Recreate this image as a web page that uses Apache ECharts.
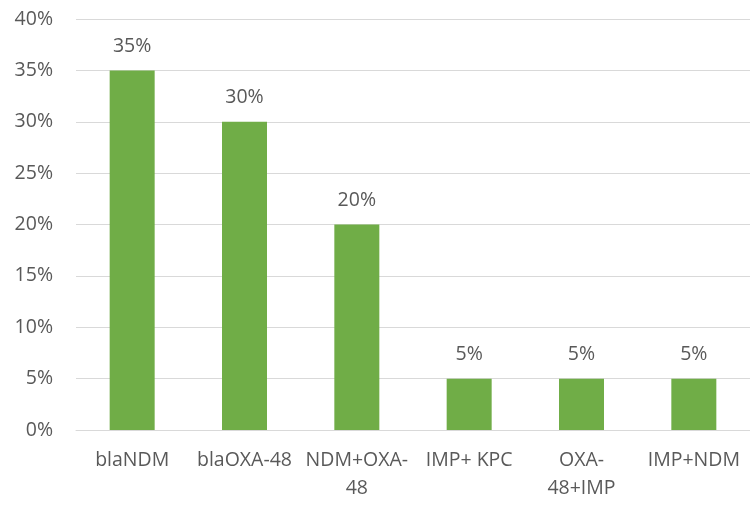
<!DOCTYPE html>
<html>
<head>
<meta charset="utf-8">
<script src="https://cdn.jsdelivr.net/npm/echarts@6/dist/echarts.min.js"></script>
<style>html,body{margin:0;padding:0;background:#fff}#c{width:750px;height:529px}</style>
</head>
<body>
<div id="c"></div>
<script>
var categories = ['blaNDM', 'blaOXA-48', 'NDM+OXA-\n48', 'IMP+ KPC', 'OXA-\n48+IMP', 'IMP+NDM'];
var values = [35, 30, 20, 5, 5, 5];
var yTicks = { min: 0, max: 40, interval: 5 };

var chart = echarts.init(document.getElementById('c'), null, { renderer: 'canvas' });
var txt = '#595959';
var font = 'Open Sans';
chart.setOption({
  animation: false,
  grid: { left: 76, top: 19, width: 677, height: 411, containLabel: false },
  xAxis: {
    type: 'category',
    data: categories,
    axisLine: { show: true, lineStyle: { color: '#d9d9d9', width: 1 } },
    axisTick: { show: false },
    axisLabel: { color: txt, fontFamily: font, fontSize: 19.5, lineHeight: 28, margin: 16, interval: 0 }
  },
  yAxis: {
    type: 'value',
    min: yTicks.min, max: yTicks.max, interval: yTicks.interval,
    axisLine: { show: false },
    axisTick: { show: false },
    splitLine: { lineStyle: { color: '#d9d9d9', width: 1 } },
    axisLabel: { color: txt, fontFamily: font, fontSize: 19.5, margin: 23, formatter: '{value}%' }
  },
  series: [{
    type: 'bar',
    data: values,
    barWidth: 45,
    itemStyle: { color: '#70ad47' },
    label: { show: true, position: 'top', distance: 14, color: txt, fontFamily: font, fontSize: 19.5, formatter: '{c}%' }
  }]
});
</script>
</body>
</html>
